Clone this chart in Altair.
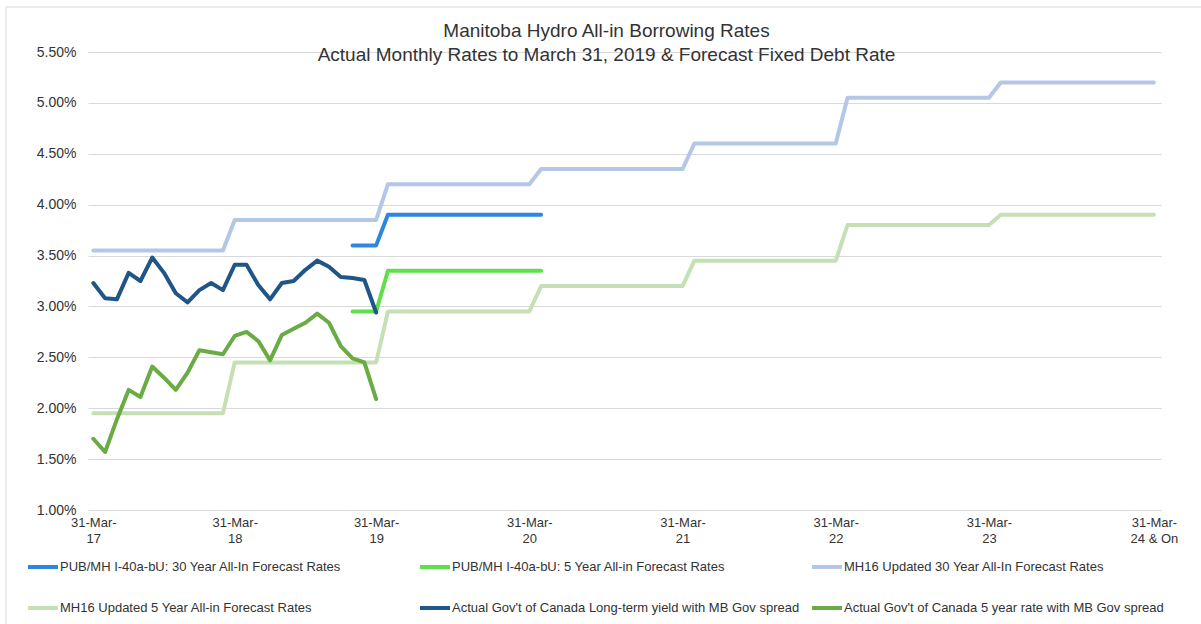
import altair as alt
import pandas as pd

# ---------------- data ----------------
title_lines = [
    "Manitoba Hydro All-in Borrowing Rates",
    "Actual Monthly Rates to March 31, 2019 & Forecast Fixed Debt Rate",
]

series_names = [
    "PUB/MH I-40a-bU: 30 Year All-In Forecast Rates",
    "PUB/MH I-40a-bU: 5 Year All-in Forecast Rates",
    "MH16 Updated 30 Year All-In Forecast Rates",
    "MH16 Updated 5 Year All-in Forecast Rates",
    "Actual Gov't of Canada Long-term yield with MB Gov spread",
    "Actual Gov't of Canada 5 year rate with MB Gov spread",
]
series_colors = ["#2E86E0", "#5DE04B", "#B4C7E7", "#C5E0B4", "#1F5587", "#6AAB43"]
series_widths = [4, 4, 3, 3, 5, 5]

# category positions on the x axis (monthly categories)
tick_positions = [0, 12, 24, 37, 50, 63, 76, 90]
tick_line1 = ["31-Mar-", "31-Mar-", "31-Mar-", "31-Mar-", "31-Mar-", "31-Mar-", "31-Mar-", "31-Mar-"]
tick_line2 = ["17", "18", "19", "20", "21", "22", "23", "24 & On"]

# actual monthly rates, Mar-17 .. Mar-19
actual_x = list(range(25))
actual_lt = [3.23, 3.08, 3.07, 3.33, 3.25, 3.48, 3.33, 3.13, 3.04, 3.16, 3.23, 3.16, 3.41,
             3.41, 3.21, 3.07, 3.23, 3.25, 3.36, 3.45, 3.39, 3.29, 3.28, 3.26, 2.94]
actual_5y = [1.70, 1.57, 1.89, 2.18, 2.11, 2.41, 2.30, 2.18, 2.35, 2.57, 2.55, 2.53, 2.71,
             2.75, 2.66, 2.47, 2.72, 2.78, 2.84, 2.93, 2.84, 2.61, 2.49, 2.45, 2.09]

# step forecasts (corner points)
mh16_x = [0, 11, 12, 24, 25, 37, 38, 50, 51, 63, 64, 76, 77, 90]
mh16_30 = [3.55, 3.55, 3.85, 3.85, 4.20, 4.20, 4.35, 4.35, 4.60, 4.60, 5.05, 5.05, 5.20, 5.20]
mh16_5 = [1.95, 1.95, 2.45, 2.45, 2.95, 2.95, 3.20, 3.20, 3.45, 3.45, 3.80, 3.80, 3.90, 3.90]

pub_x = [22, 24, 25, 38]
pub_30 = [3.60, 3.60, 3.90, 3.90]
pub_5 = [2.95, 2.95, 3.35, 3.35]

y_ticks = [1.0, 1.5, 2.0, 2.5, 3.0, 3.5, 4.0, 4.5, 5.0, 5.5]

# ---------------- table ----------------
rows = []
def add(name, xs, ys, order):
    for i, (a, b) in enumerate(zip(xs, ys)):
        rows.append({"series": name, "x": a, "rate": b, "ord": order, "i": i})

add(series_names[2], mh16_x, mh16_30, 0)
add(series_names[3], mh16_x, mh16_5, 1)
add(series_names[0], pub_x, pub_30, 2)
add(series_names[1], pub_x, pub_5, 3)
add(series_names[5], actual_x, actual_5y, 4)
add(series_names[4], actual_x, actual_lt, 5)
df = pd.DataFrame(rows)

label_expr = " : ".join(
    f"datum.value == {p} ? ['{a}', '{b}']" for p, a, b in zip(tick_positions, tick_line1, tick_line2)
) + " : ''"

FONT = "Liberation Sans"
TXT = "#333333"

lines = alt.Chart(df).mark_line(strokeCap="round", strokeJoin="round").encode(
    x=alt.X("x:Q",
            scale=alt.Scale(domain=[-0.45, 90.6], nice=False, zero=False),
            axis=alt.Axis(values=tick_positions, labelExpr=label_expr, grid=False,
                          domain=False, ticks=False, labelPadding=6, labelFontSize=13,
                          labelLineHeight=16, labelFont=FONT, labelColor=TXT,
                          labelOverlap=False, title=None)),
    y=alt.Y("rate:Q",
            scale=alt.Scale(domain=[1.0, 5.5], nice=False, zero=False),
            axis=alt.Axis(values=y_ticks, labelExpr="format(datum.value, '.2f') + '%'",
                          grid=True, gridColor="#D9D9D9", gridWidth=1, domain=False,
                          ticks=False, labelPadding=12, labelFontSize=14, labelFont=FONT,
                          labelColor=TXT, title=None)),
    color=alt.Color("series:N",
                    scale=alt.Scale(domain=series_names, range=series_colors),
                    legend=alt.Legend(title=None, orient="none", legendX=-62, legendY=498,
                                      direction="horizontal",
                                      columns=3, gridAlign="all", columnPadding=4,
                                      rowPadding=16, symbolType="stroke",
                                      symbolSize=900, symbolStrokeWidth=5, labelOffset=0,
                                      labelFontSize=13, labelFont=FONT, labelColor=TXT,
                                      labelLimit=500)),
    strokeWidth=alt.StrokeWidth("series:N",
                                scale=alt.Scale(domain=series_names, range=series_widths),
                                legend=None),
    detail="ord:N",
    order="i:Q",
)

frame = alt.Chart(pd.DataFrame({"a": [0]})).mark_rect(
    fillOpacity=0, stroke="#D9D9D9", strokeWidth=1
).encode(x=alt.value(-82), x2=alt.value(1130), y=alt.value(-45), y2=alt.value(600))

chart = alt.layer(frame, lines).properties(
    width=1073,
    height=458,
    padding={"left": 88, "top": 52, "right": 40, "bottom": 114},
    autosize=alt.AutoSizeParams(type="none"),
    title=alt.TitleParams(text=title_lines, fontSize=19, font=FONT, fontWeight="normal",
                          color=TXT, anchor="middle", dx=-18, lineHeight=24, offset=-58),
    background="white",
).configure_view(stroke=None)

chart.save("out.html", embed_options={"renderer": "svg", "actions": False})
